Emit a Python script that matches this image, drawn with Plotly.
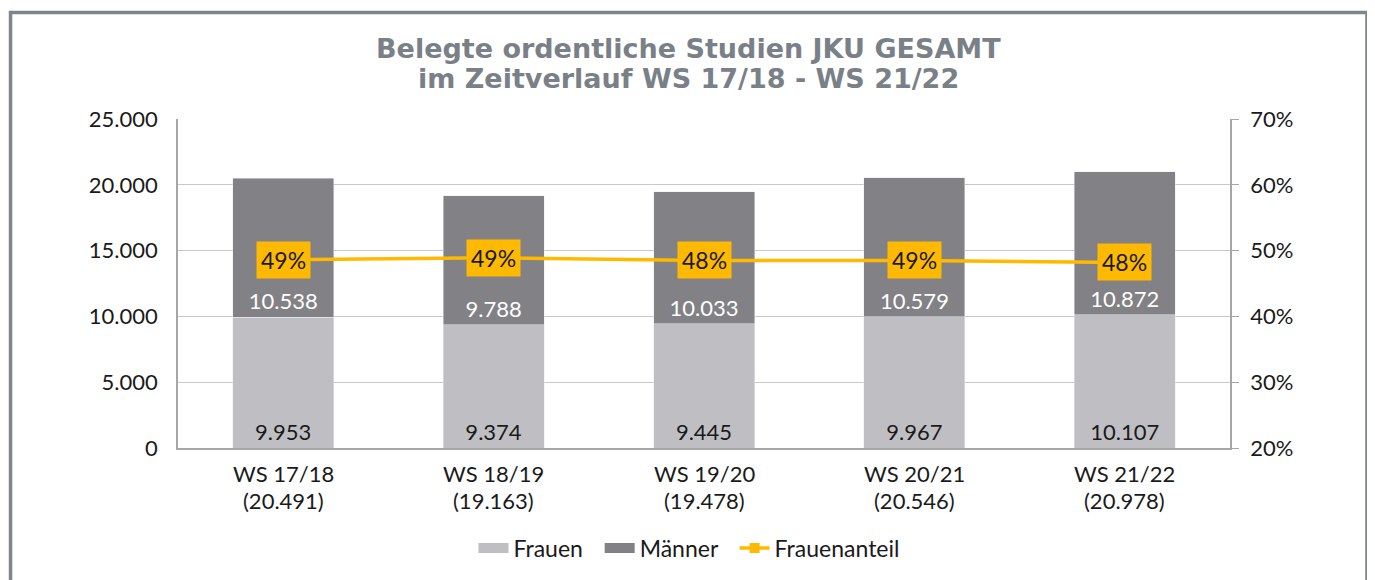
import plotly.graph_objects as go

categories = ["WS 17/18", "WS 18/19", "WS 19/20", "WS 20/21", "WS 21/22"]
totals = ["(20.491)", "(19.163)", "(19.478)", "(20.546)", "(20.978)"]
frauen = [9953, 9374, 9445, 9967, 10107]
maenner = [10538, 9788, 10033, 10579, 10872]
frauen_labels = ["9.953", "9.374", "9.445", "9.967", "10.107"]
maenner_labels = ["10.538", "9.788", "10.033", "10.579", "10.872"]
anteil = [48.6, 48.9, 48.5, 48.5, 48.2]
anteil_labels = ["49%", "49%", "48%", "49%", "48%"]
title_lines = ["Belegte ordentliche Studien JKU GESAMT", "im Zeitverlauf WS 17/18 - WS 21/22"]

FONT = "Lato"
FS = 22
C_FRAUEN = "#BFBFC3"
C_MAENNER = "#818186"
C_YELLOW = "#FFB900"
C_TEXT = "#1a1a1a"
C_TITLE = "#7A8087"
NB = "\u00a0"

fig = go.Figure()
fig.add_trace(go.Bar(
    x=categories, y=frauen, name="Frauen", marker_color=C_FRAUEN, showlegend=False,
    text=frauen_labels, textposition="inside", insidetextanchor="start",
    textfont=dict(color=C_TEXT, size=FS, family=FONT), textangle=0,
))
fig.add_trace(go.Bar(
    x=categories, y=maenner, name="Männer", marker_color=C_MAENNER, showlegend=False,
    text=maenner_labels, textposition="inside", insidetextanchor="start",
    textfont=dict(color="white", size=FS, family=FONT), textangle=0,
))
# legend stand-ins with wide rectangular swatches
fig.add_trace(go.Scatter(x=[None], y=[None], mode="lines", name="Frauen" + NB * 2,
                         line=dict(color=C_FRAUEN, width=12)))
fig.add_trace(go.Scatter(x=[None], y=[None], mode="lines", name="Männer" + NB * 2,
                         line=dict(color=C_MAENNER, width=12)))
fig.add_trace(go.Scatter(
    x=categories, y=anteil, name="Frauenanteil", yaxis="y2", mode="lines+markers",
    line=dict(color=C_YELLOW, width=3.5), marker=dict(symbol="square", size=10, color=C_YELLOW),
))

for xl, v, lab in zip(categories, anteil, anteil_labels):
    fig.add_annotation(x=xl, y=v, yref="y2", text=lab, showarrow=False,
                       bgcolor=C_YELLOW, borderpad=4,
                       font=dict(color=C_TEXT, size=23, family=FONT))

# two-line category labels
for c, t in zip(categories, totals):
    fig.add_annotation(x=c, y=-0.0788, yref="paper", text=c, showarrow=False,
                       yanchor="middle", font=dict(color=C_TEXT, size=FS, family=FONT))
    fig.add_annotation(x=c, y=-0.1606, yref="paper", text=t, showarrow=False,
                       yanchor="middle", font=dict(color=C_TEXT, size=FS, family=FONT))

# title
for line, yy in zip(title_lines, [1.215, 1.124]):
    fig.add_annotation(x=0.4857, xref="paper", y=yy, yref="paper", text=f"<b>{line}</b>",
                       showarrow=False, xanchor="center", yanchor="middle",
                       font=dict(family="DejaVu Sans", size=27, color=C_TITLE))

# outer frame
fig.add_shape(type="rect", xref="paper", yref="paper",
              x0=-0.1592, x1=1.1302, y0=-0.45, y1=1.324,
              line=dict(color="#7E858B", width=3.5), layer="below")

fig.update_layout(
    width=1367, height=572,
    margin=dict(l=170, r=145, t=111, b=131),
    paper_bgcolor="white", plot_bgcolor="white",
    barmode="stack", bargap=0.52,
    font=dict(family=FONT, size=FS, color=C_TEXT),
    xaxis=dict(showline=True, linecolor="#A6A6A6", linewidth=1.5, ticks="",
               showticklabels=False, mirror=False),
    yaxis=dict(range=[0, 25000], dtick=5000, tickformat=",d", showgrid=True,
               gridcolor="#C9C9C9", gridwidth=1.2, showline=True, linecolor="#A6A6A6",
               linewidth=1.5, ticks="", ticklabelstandoff=14, zeroline=False,
               tickfont=dict(size=FS, family=FONT, color=C_TEXT)),
    yaxis2=dict(range=[20, 70], dtick=10, overlaying="y", side="right", showgrid=False,
                ticksuffix="%", showline=True, linecolor="#A6A6A6", linewidth=1.5,
                ticks="outside", ticklen=7, tickcolor="#A6A6A6", zeroline=False,
                ticklabelstandoff=7,
                tickfont=dict(size=FS, family=FONT, color=C_TEXT)),
    separators=",.",
    legend=dict(orientation="h", x=0.4857, xanchor="center", y=-0.30, yanchor="middle",
                font=dict(size=23, family=FONT, color=C_TEXT), traceorder="normal",
                itemwidth=30),
    showlegend=True,
)

fig.write_html("out.html")
